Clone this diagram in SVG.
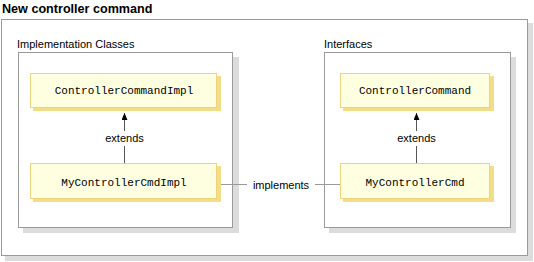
<svg xmlns="http://www.w3.org/2000/svg" width="534" height="262" viewBox="0 0 534 262">
<defs>
<style>
.shadow{fill:#dcdcdc}
.frame{fill:#fff;stroke:#9a9a9a;stroke-width:1}
.nshadow{fill:#f3dd86}
.node{fill:#fefee0;stroke:#efd27c;stroke-width:1}
.title{font-family:"Liberation Sans",Arial,sans-serif;font-weight:bold;font-size:12.6px;fill:#000}
.label{font-family:"Liberation Sans",Arial,sans-serif;font-size:11px;fill:#000}
.code{font-family:"Liberation Mono","Courier New",monospace;font-size:11px;fill:#000}
.line{stroke:#555;stroke-width:1;fill:none}
.gline{stroke:#999;stroke-width:1;fill:none}
</style>
<marker id="arrow" markerWidth="7" markerHeight="6" refX="7" refY="3" orient="auto" markerUnits="userSpaceOnUse" viewBox="0 0 7 6">
<path d="M0,0 L7,3 L0,6 Z" fill="#000"/>
</marker>
</defs>
<rect width="534" height="262" fill="#fff"/>
<text class="title" x="2" y="13">New controller command</text>
<g id="outer">
<rect class="shadow" x="5" y="23" width="528" height="238"/>
<rect class="frame" x="1.5" y="19.5" width="526" height="236"/>
</g>
<g id="impl-group">
<text class="label" x="17" y="47.5">Implementation Classes</text>
<rect class="shadow" x="23" y="57" width="216" height="176"/>
<rect class="frame" x="18.5" y="52.5" width="214" height="175"/>
</g>
<g id="iface-group">
<text class="label" x="324" y="47.5">Interfaces</text>
<rect class="shadow" x="329" y="57" width="187" height="176"/>
<rect class="frame" x="324.5" y="52.5" width="186" height="175"/>
</g>
<g id="connectors">
<line class="line" x1="124.5" y1="163" x2="124.5" y2="146"/>
<line class="line" x1="124.5" y1="131" x2="124.5" y2="113" marker-end="url(#arrow)"/>
<text class="label" x="124.5" y="142" text-anchor="middle">extends</text>
<line class="line" x1="416.5" y1="163" x2="416.5" y2="146"/>
<line class="line" x1="416.5" y1="131" x2="416.5" y2="113" marker-end="url(#arrow)"/>
<text class="label" x="416.5" y="142" text-anchor="middle">extends</text>
<line class="gline" x1="221" y1="184.5" x2="247" y2="184.5"/>
<text class="label" x="281" y="188.5" text-anchor="middle">implements</text>
<line class="gline" x1="315" y1="184.5" x2="340" y2="184.5"/>
</g>
<g id="ControllerCommandImpl">
<rect class="nshadow" x="33" y="76" width="188" height="35"/>
<rect class="node" x="30.5" y="73.5" width="186" height="34"/>
<text class="code" x="124" y="94" text-anchor="middle">ControllerCommandImpl</text>
</g>
<g id="MyControllerCmdImpl">
<rect class="nshadow" x="33" y="166" width="188" height="36"/>
<rect class="node" x="30.5" y="163.5" width="186" height="35"/>
<text class="code" x="124" y="186" text-anchor="middle">MyControllerCmdImpl</text>
</g>
<g id="ControllerCommand">
<rect class="nshadow" x="343" y="76" width="151" height="35"/>
<rect class="node" x="340.5" y="73.5" width="149" height="34"/>
<text class="code" x="415" y="94" text-anchor="middle">ControllerCommand</text>
</g>
<g id="MyControllerCmd">
<rect class="nshadow" x="343" y="166" width="151" height="36"/>
<rect class="node" x="340.5" y="163.5" width="149" height="35"/>
<text class="code" x="415" y="186" text-anchor="middle">MyControllerCmd</text>
</g>
</svg>
